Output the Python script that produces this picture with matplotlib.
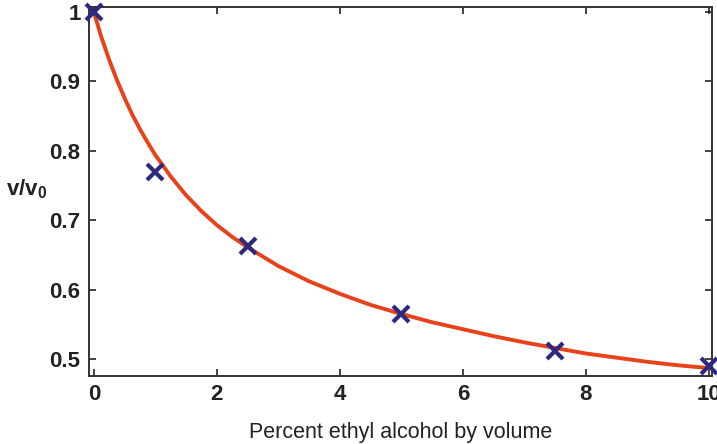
import matplotlib
matplotlib.use("Agg")
import matplotlib.pyplot as plt

plt.rcParams['font.family'] = ['Liberation Sans', 'DejaVu Sans']
plt.rcParams['mathtext.fontset'] = 'custom'
plt.rcParams['mathtext.rm'] = 'Liberation Sans:bold'
plt.rcParams['mathtext.it'] = 'Liberation Sans:bold'

# measured data points
x_data = [0, 1, 2.5, 5, 7.5, 10]
y_data = [1.0, 0.77, 0.663, 0.565, 0.512, 0.49]

# fitted curve
x_fit = [0, 0.125, 0.25, 0.375, 0.5, 0.625, 0.75, 0.875, 1, 1.25, 1.5, 1.75, 2,
         2.25, 2.5, 3, 3.5, 4, 4.5, 5, 5.5, 6, 6.5, 7, 7.5, 8, 8.5, 9, 9.5, 10]
y_fit = [1.0, 0.963, 0.931, 0.902, 0.876, 0.852, 0.831, 0.812, 0.794, 0.763,
         0.736, 0.713, 0.693, 0.676, 0.661, 0.634, 0.612, 0.594, 0.578, 0.565,
         0.553, 0.543, 0.533, 0.524, 0.516, 0.508, 0.502, 0.496, 0.491, 0.487]

x_ticks = [0, 2, 4, 6, 8, 10]
y_ticks = [0.5, 0.6, 0.7, 0.8, 0.9, 1.0]
y_ticklabels = ['0.5', '0.6', '0.7', '0.8', '0.9', '1']

fig = plt.figure(figsize=(7.17, 4.44), dpi=100)
ax = fig.add_axes([0.124, 0.153, 0.869, 0.831])

ax.plot(x_fit, y_fit, color='#e8421a', lw=2.8, solid_capstyle='round',
        solid_joinstyle='round', zorder=2)
ax.plot(x_data, y_data, linestyle='none', marker='x', color='#2b2a7e',
        markersize=11, markeredgewidth=3, zorder=3, clip_on=False)

ax.set_xlim(-0.08, 10.05)
ax.set_ylim(0.4755, 1.007)
ax.set_xticks(x_ticks)
ax.set_xticklabels([str(t) for t in x_ticks])
ax.set_yticks(y_ticks)
ax.set_yticklabels(y_ticklabels)

ax.tick_params(direction='in', top=True, right=True, length=5, width=1.2,
               labelsize=16, colors='#222222', pad=6)
for lab in ax.get_xticklabels() + ax.get_yticklabels():
    lab.set_fontweight('bold')
for s in ax.spines.values():
    s.set_linewidth(1.4)
    s.set_color('#333333')

ax.set_xlabel('Percent ethyl alcohol by volume', fontsize=15.5, color='#222222', labelpad=12)
fig.text(0.008, 0.575, r'v/v$_0$', fontsize=16, fontweight='bold', color='#222222',
         ha='left', va='center')

fig.savefig('out.png', dpi=100)
